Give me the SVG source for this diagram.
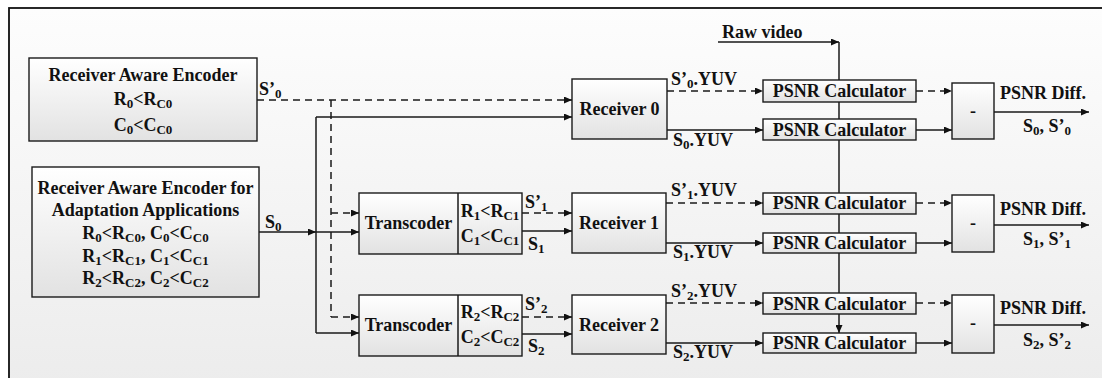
<svg xmlns="http://www.w3.org/2000/svg" width="1102" height="378" viewBox="0 0 1102 378">
<defs>
<linearGradient id="bg" x1="0" y1="0" x2="0" y2="1"><stop offset="0" stop-color="#fdfdfd"/><stop offset="1" stop-color="#ececec"/></linearGradient>
<linearGradient id="bx" x1="0" y1="0" x2="0" y2="1"><stop offset="0" stop-color="#ffffff"/><stop offset="1" stop-color="#e2e2e2"/></linearGradient>
<marker id="ar" markerUnits="userSpaceOnUse" markerWidth="8" markerHeight="7" refX="8" refY="3.5" orient="auto"><path d="M0,0 L8,3.5 L0,7 z" fill="#111"/></marker>
<style>
.box{fill:url(#bx);stroke:#1a1a1a;stroke-width:1.4}
.t{font-family:"Liberation Serif","Times New Roman",serif;font-weight:bold;font-size:18px;fill:#111}
.m{text-anchor:middle}
.s{font-size:13px}
.ln{fill:none;stroke:#1a1a1a;stroke-width:1.5}
.d{stroke-dasharray:7 5}
.a{marker-end:url(#ar)}
</style>
</defs>
<rect x="9" y="8" width="1100" height="380" fill="url(#bg)" stroke="#111" stroke-width="1.8"/>

<g id="connectors">
<path class="ln d a" d="M257,100 H572"/>
<path class="ln d" d="M331,100 V317"/>
<path class="ln d a" d="M331,213 H359"/>
<path class="ln d a" d="M331,317 H359"/>
<path class="ln a" d="M259,232 H316"/>
<path class="ln a" d="M316,232 H359"/>
<path class="ln" d="M316,117 V333"/>
<path class="ln a" d="M316,117 H572"/>
<path class="ln a" d="M316,333 H359"/>
<path class="ln d a" d="M522,213 H572"/>
<path class="ln a" d="M522,231 H572"/>
<path class="ln d a" d="M522,317 H572"/>
<path class="ln a" d="M522,334 H572"/>
<path class="ln d a" d="M667,91 H763"/>
<path class="ln a" d="M667,130 H763"/>
<path class="ln d a" d="M666,203 H763"/>
<path class="ln a" d="M666,243 H763"/>
<path class="ln d a" d="M666,303 H763"/>
<path class="ln a" d="M666,343 H763"/>
<path class="ln a" d="M718,42 H839"/>
<path class="ln a" d="M839,42 V333"/>
<path class="ln d a" d="M916,91 H952"/>
<path class="ln a" d="M916,130 H952"/>
<path class="ln d a" d="M916,203 H952"/>
<path class="ln a" d="M916,243 H952"/>
<path class="ln d a" d="M916,303 H952"/>
<path class="ln a" d="M916,343 H952"/>
<path class="ln a" d="M994,112 H1089"/>
<path class="ln a" d="M994,225 H1089"/>
<path class="ln a" d="M994,325 H1089"/>
</g>

<g id="enc0">
<rect class="box" x="29" y="58" width="228" height="83"/>
<text class="t m" x="143" y="81">Receiver Aware Encoder</text>
<text class="t m" x="143" y="105">R<tspan class="s" dy="3">0</tspan><tspan dy="-3">&lt;R</tspan><tspan class="s" dy="3">C0</tspan></text>
<text class="t m" x="143" y="131">C<tspan class="s" dy="3">0</tspan><tspan dy="-3">&lt;C</tspan><tspan class="s" dy="3">C0</tspan></text>
</g>

<g id="enc1">
<rect class="box" x="32" y="167" width="227" height="130"/>
<text class="t m" x="145.5" y="194">Receiver Aware Encoder for</text>
<text class="t m" x="145.5" y="216">Adaptation Applications</text>
<text class="t m" x="145.5" y="239">R<tspan class="s" dy="3">0</tspan><tspan dy="-3">&lt;R</tspan><tspan class="s" dy="3">C0</tspan><tspan dy="-3">, C</tspan><tspan class="s" dy="3">0</tspan><tspan dy="-3">&lt;C</tspan><tspan class="s" dy="3">C0</tspan></text>
<text class="t m" x="145.5" y="262">R<tspan class="s" dy="3">1</tspan><tspan dy="-3">&lt;R</tspan><tspan class="s" dy="3">C1</tspan><tspan dy="-3">, C</tspan><tspan class="s" dy="3">1</tspan><tspan dy="-3">&lt;C</tspan><tspan class="s" dy="3">C1</tspan></text>
<text class="t m" x="145.5" y="284">R<tspan class="s" dy="3">2</tspan><tspan dy="-3">&lt;R</tspan><tspan class="s" dy="3">C2</tspan><tspan dy="-3">, C</tspan><tspan class="s" dy="3">2</tspan><tspan dy="-3">&lt;C</tspan><tspan class="s" dy="3">C2</tspan></text>
</g>

<g id="trans1">
<rect class="box" x="359" y="193" width="163" height="61"/>
<line class="ln" x1="458" y1="193" x2="458" y2="254"/>
<text class="t m" x="408.5" y="229">Transcoder</text>
<text class="t m" x="490" y="217">R<tspan class="s" dy="3">1</tspan><tspan dy="-3">&lt;R</tspan><tspan class="s" dy="3">C1</tspan></text>
<text class="t m" x="490" y="242">C<tspan class="s" dy="3">1</tspan><tspan dy="-3">&lt;C</tspan><tspan class="s" dy="3">C1</tspan></text>
</g>

<g id="trans2">
<rect class="box" x="359" y="295" width="163" height="61"/>
<line class="ln" x1="458" y1="295" x2="458" y2="356"/>
<text class="t m" x="408.5" y="331">Transcoder</text>
<text class="t m" x="490" y="318">R<tspan class="s" dy="3">2</tspan><tspan dy="-3">&lt;R</tspan><tspan class="s" dy="3">C2</tspan></text>
<text class="t m" x="490" y="343">C<tspan class="s" dy="3">2</tspan><tspan dy="-3">&lt;C</tspan><tspan class="s" dy="3">C2</tspan></text>
</g>

<g id="rcv0"><rect class="box" x="572" y="79" width="95" height="60"/><text class="t m" x="619.5" y="115">Receiver 0</text></g>
<g id="rcv1"><rect class="box" x="572" y="193" width="94" height="60"/><text class="t m" x="619" y="229">Receiver 1</text></g>
<g id="rcv2"><rect class="box" x="572" y="295" width="94" height="59"/><text class="t m" x="619" y="331">Receiver 2</text></g>

<g id="psnr0a"><rect class="box" x="763" y="80" width="153" height="22"/><text class="t m" x="839.5" y="97">PSNR Calculator</text></g>
<g id="psnr0b"><rect class="box" x="763" y="119" width="153" height="21"/><text class="t m" x="839.5" y="136">PSNR Calculator</text></g>
<g id="psnr1a"><rect class="box" x="763" y="193" width="153" height="21"/><text class="t m" x="839.5" y="209">PSNR Calculator</text></g>
<g id="psnr1b"><rect class="box" x="763" y="233" width="153" height="20"/><text class="t m" x="839.5" y="249">PSNR Calculator</text></g>
<g id="psnr2a"><rect class="box" x="763" y="293" width="153" height="21"/><text class="t m" x="839.5" y="310">PSNR Calculator</text></g>
<g id="psnr2b"><rect class="box" x="763" y="333" width="153" height="20"/><text class="t m" x="839.5" y="349">PSNR Calculator</text></g>

<g id="diff0"><rect class="box" x="952" y="83" width="42" height="56"/><text class="t m" x="973" y="117">-</text></g>
<g id="diff1"><rect class="box" x="952" y="195" width="42" height="57"/><text class="t m" x="973" y="229">-</text></g>
<g id="diff2"><rect class="box" x="952" y="295" width="42" height="58"/><text class="t m" x="973" y="329">-</text></g>

<g id="labels">
<text class="t" x="722" y="38">Raw video</text>
<text class="t" x="259" y="95">S’<tspan class="s" dy="3">0</tspan></text>
<text class="t" x="265" y="228">S<tspan class="s" dy="3">0</tspan></text>
<text class="t" x="525" y="208">S’<tspan class="s" dy="3">1</tspan></text>
<text class="t" x="528" y="250">S<tspan class="s" dy="3">1</tspan></text>
<text class="t" x="525" y="310">S’<tspan class="s" dy="3">2</tspan></text>
<text class="t" x="528" y="352">S<tspan class="s" dy="3">2</tspan></text>
<text class="t" x="671" y="85">S’<tspan class="s" dy="3">0</tspan><tspan dy="-3">.YUV</tspan></text>
<text class="t" x="673" y="146">S<tspan class="s" dy="3">0</tspan><tspan dy="-3">.YUV</tspan></text>
<text class="t" x="671" y="196">S’<tspan class="s" dy="3">1</tspan><tspan dy="-3">.YUV</tspan></text>
<text class="t" x="673" y="258">S<tspan class="s" dy="3">1</tspan><tspan dy="-3">.YUV</tspan></text>
<text class="t" x="671" y="297">S’<tspan class="s" dy="3">2</tspan><tspan dy="-3">.YUV</tspan></text>
<text class="t" x="673" y="358">S<tspan class="s" dy="3">2</tspan><tspan dy="-3">.YUV</tspan></text>
<text class="t" x="1000" y="99">PSNR Diff.</text>
<text class="t" x="1000" y="215">PSNR Diff.</text>
<text class="t" x="1000" y="314">PSNR Diff.</text>
<text class="t m" x="1047" y="132">S<tspan class="s" dy="3">0</tspan><tspan dy="-3">, S’</tspan><tspan class="s" dy="3">0</tspan></text>
<text class="t m" x="1047" y="245">S<tspan class="s" dy="3">1</tspan><tspan dy="-3">, S’</tspan><tspan class="s" dy="3">1</tspan></text>
<text class="t m" x="1047" y="346">S<tspan class="s" dy="3">2</tspan><tspan dy="-3">, S’</tspan><tspan class="s" dy="3">2</tspan></text>
</g>
</svg>
